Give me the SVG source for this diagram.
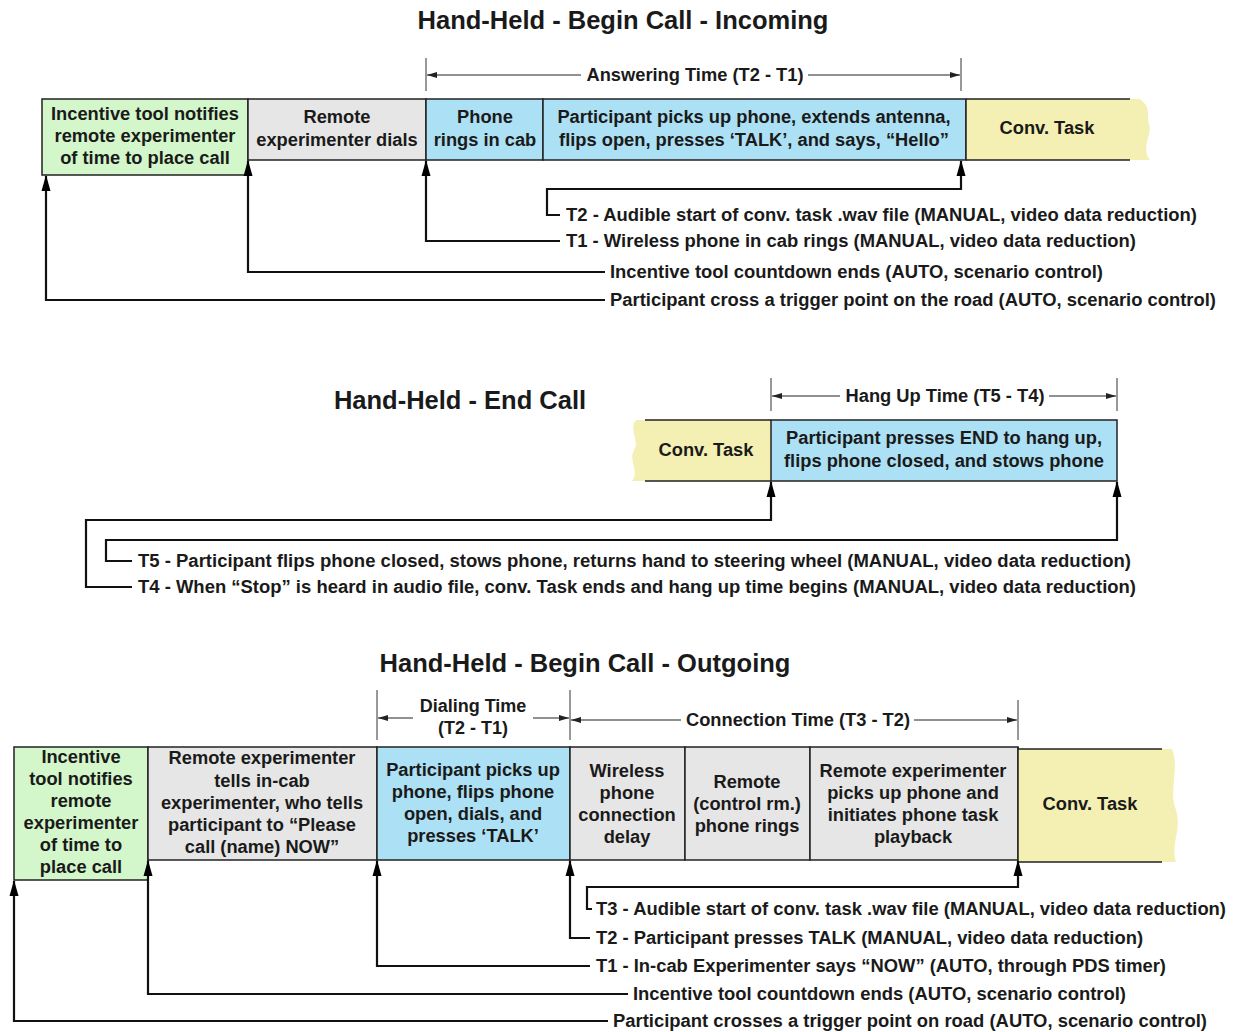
<svg xmlns="http://www.w3.org/2000/svg" width="1238" height="1032" viewBox="0 0 1238 1032">
<style>
text{font-family:"Liberation Sans",Arial,sans-serif;font-weight:bold;fill:#1a1a1a}
.title{font-size:25.5px;text-anchor:middle}
.box{font-size:18.3px;text-anchor:middle}
.lbl{font-size:17.5px}
.dim{font-size:18px;text-anchor:middle}
.green{fill:#d3f6cb;stroke:#222;stroke-width:1.5}
.gray{fill:#e6e6e6;stroke:#222;stroke-width:1.5}
.blue{fill:#ace0f4;stroke:#222;stroke-width:1.5}
.yel{fill:#f4efb2;stroke:none}
.edge{stroke:#222;stroke-width:1.5;fill:none}
.conn{stroke:#111;stroke-width:2.2;fill:none;marker-end:url(#ah)}
.tick{stroke:#333;stroke-width:1}
.dline{stroke:#222;stroke-width:1;fill:none;marker-end:url(#da)}
</style>
<defs>
<marker id="ah" markerUnits="userSpaceOnUse" markerWidth="16" markerHeight="10" viewBox="0 0 16 10" refX="15" refY="5" orient="auto">
<path d="M0,0.5 L16,5 L0,9.5 z" fill="#000"/>
</marker>
<marker id="da" markerUnits="userSpaceOnUse" markerWidth="10" markerHeight="6" viewBox="0 0 10 6" refX="10" refY="3" orient="auto">
<path d="M0,0 L10,3 L0,6 z" fill="#222"/>
</marker>
</defs>

<!-- ===== Section 1 ===== -->
<text class="title" x="623" y="29">Hand-Held - Begin Call - Incoming</text>
<g id="dim-answer">
<line class="tick" x1="426" y1="58" x2="426" y2="91"/>
<line class="tick" x1="961" y1="58" x2="961" y2="91"/>
<path class="dline" d="M581,75 H427"/>
<path class="dline" d="M808,75 H960"/>
<text class="dim" x="695" y="81" textLength="217" lengthAdjust="spacingAndGlyphs">Answering Time (T2 - T1)</text>
</g>
<g id="n1-notify"><rect class="green" x="42" y="99" width="206" height="76"/>
<text class="box" x="145" y="120">Incentive tool notifies</text><text class="box" x="145" y="142">remote experimenter</text><text class="box" x="145" y="164">of time to place call</text></g>
<g id="n1-dials"><rect class="gray" x="248" y="99" width="178" height="61"/>
<text class="box" x="337" y="123">Remote</text><text class="box" x="337" y="146">experimenter dials</text></g>
<g id="n1-rings"><rect class="blue" x="426" y="99" width="117" height="61"/>
<text class="box" x="485" y="123">Phone</text><text class="box" x="485" y="146">rings in cab</text></g>
<g id="n1-pickup"><rect class="blue" x="543" y="99" width="423" height="61"/>
<text class="box" x="754" y="123">Participant picks up phone, extends antenna,</text><text class="box" x="754" y="146">flips open, presses ‘TALK’, and says, “Hello”</text></g>
<g id="n1-conv"><path class="yel" d="M966,99 H1140 C1152,108 1146,116 1149,124 C1153,134 1140,148 1150,160 H966 Z"/>
<path class="edge" d="M966,99 H1130 M966,160 H1130 M966,99 V160"/>
<text class="box" x="1047" y="134">Conv. Task</text></g>
<g id="conn1">
<path class="conn" d="M560,215 H547 V189 H961 V161"/>
<path class="conn" d="M560,241 H426 V161"/>
<path class="conn" d="M605,272 H248 V161"/>
<path class="conn" d="M605,300 H46 V176"/>
</g>
<text class="lbl" x="566" y="221" textLength="631" lengthAdjust="spacingAndGlyphs">T2 - Audible start of conv. task .wav file (MANUAL, video data reduction)</text>
<text class="lbl" x="566" y="247" textLength="570" lengthAdjust="spacingAndGlyphs">T1 - Wireless phone in cab rings (MANUAL, video data reduction)</text>
<text class="lbl" x="610" y="278" textLength="493" lengthAdjust="spacingAndGlyphs">Incentive tool countdown ends (AUTO, scenario control)</text>
<text class="lbl" x="610" y="306" textLength="606" lengthAdjust="spacingAndGlyphs">Participant cross a trigger point on the road (AUTO, scenario control)</text>

<!-- ===== Section 2 ===== -->
<text class="title" x="460" y="409">Hand-Held - End Call</text>
<g id="dim-hang">
<line class="tick" x1="771" y1="378" x2="771" y2="411"/>
<line class="tick" x1="1117" y1="378" x2="1117" y2="411"/>
<path class="dline" d="M840,396 H772"/>
<path class="dline" d="M1049,396 H1116"/>
<text class="dim" x="945" y="402" textLength="199" lengthAdjust="spacingAndGlyphs">Hang Up Time (T5 - T4)</text>
</g>
<g id="n2-conv"><path class="yel" d="M771,420 H636 C628,430 640,440 634,450 C628,462 640,470 632,481 H771 Z"/>
<path class="edge" d="M645,420 H771 M645,481 H771"/>
<text class="box" x="706" y="456">Conv. Task</text></g>
<g id="n2-end"><rect class="blue" x="771" y="420" width="346" height="61"/>
<text class="box" x="944" y="444">Participant presses END to hang up,</text><text class="box" x="944" y="467">flips phone closed, and stows phone</text></g>
<g id="conn2">
<path class="conn" d="M132,587 H86 V520 H771 V482"/>
<path class="conn" d="M132,561 H106 V540 H1117 V482"/>
</g>
<text class="lbl" x="138" y="567" textLength="993" lengthAdjust="spacingAndGlyphs">T5 - Participant  flips phone closed, stows phone, returns hand to steering wheel (MANUAL, video data reduction)</text>
<text class="lbl" x="138" y="593" textLength="998" lengthAdjust="spacingAndGlyphs">T4 - When “Stop” is heard in audio file, conv. Task ends and hang up time begins (MANUAL, video data reduction)</text>

<!-- ===== Section 3 ===== -->
<text class="title" x="585" y="672">Hand-Held - Begin Call - Outgoing</text>
<g id="dim-dial">
<line class="tick" x1="377" y1="690" x2="377" y2="740"/>
<line class="tick" x1="570" y1="690" x2="570" y2="740"/>
<path class="dline" d="M413,718 H378"/>
<path class="dline" d="M533,718 H569"/>
<text class="dim" x="473" y="712">Dialing Time</text>
<text class="dim" x="473" y="734">(T2 - T1)</text>
</g>
<g id="dim-conn">
<line class="tick" x1="1018" y1="700" x2="1018" y2="740"/>
<path class="dline" d="M681,720 H571"/>
<path class="dline" d="M914,720 H1017"/>
<text class="dim" x="798" y="726" textLength="224" lengthAdjust="spacingAndGlyphs">Connection Time (T3 - T2)</text>
</g>
<g id="n3-notify"><rect class="green" x="14" y="747" width="134" height="133"/>
<text class="box" x="81" y="763">Incentive</text><text class="box" x="81" y="785">tool notifies</text><text class="box" x="81" y="807">remote</text><text class="box" x="81" y="829">experimenter</text><text class="box" x="81" y="851">of time to</text><text class="box" x="81" y="873">place call</text></g>
<g id="n3-tells"><rect class="gray" x="148" y="747" width="229" height="113"/>
<text class="box" x="262" y="764">Remote experimenter</text><text class="box" x="262" y="787">tells in-cab</text><text class="box" x="262" y="809">experimenter, who tells</text><text class="box" x="262" y="831">participant to “Please</text><text class="box" x="262" y="853">call (name) NOW”</text></g>
<g id="n3-dial"><rect class="blue" x="377" y="747" width="193" height="113"/>
<text class="box" x="473" y="776">Participant picks up</text><text class="box" x="473" y="798">phone, flips phone</text><text class="box" x="473" y="820">open, dials, and</text><text class="box" x="473" y="842">presses ‘TALK’</text></g>
<g id="n3-delay"><rect class="gray" x="570" y="747" width="115" height="113"/>
<text class="box" x="627" y="777">Wireless</text><text class="box" x="627" y="799">phone</text><text class="box" x="627" y="821">connection</text><text class="box" x="627" y="843">delay</text></g>
<g id="n3-rings"><rect class="gray" x="685" y="747" width="125" height="113"/>
<text class="box" x="747" y="788">Remote</text><text class="box" x="747" y="810">(control rm.)</text><text class="box" x="747" y="832">phone rings</text></g>
<g id="n3-pickup"><rect class="gray" x="810" y="747" width="208" height="113"/>
<text class="box" x="913" y="777">Remote experimenter</text><text class="box" x="913" y="799">picks up phone and</text><text class="box" x="913" y="821">initiates phone task</text><text class="box" x="913" y="843">playback</text></g>
<g id="n3-conv"><path class="yel" d="M1018,749 H1172 C1180,770 1168,790 1176,810 C1182,830 1170,845 1176,862 H1018 Z"/>
<path class="edge" d="M1018,749 H1162 M1018,862 H1162 M1018,747 V862"/>
<text class="box" x="1090" y="810">Conv. Task</text></g>
<g id="conn3">
<path class="conn" d="M592,909 H587 V887 H1018 V861"/>
<path class="conn" d="M590,938 H570 V861"/>
<path class="conn" d="M590,966 H377 V861"/>
<path class="conn" d="M628,994 H148 V861"/>
<path class="conn" d="M608,1021 H14 V881"/>
</g>
<text class="lbl" x="596" y="915" textLength="630" lengthAdjust="spacingAndGlyphs">T3 - Audible start of conv. task .wav file (MANUAL, video data reduction)</text>
<text class="lbl" x="596" y="944" textLength="547" lengthAdjust="spacingAndGlyphs">T2 - Participant presses TALK (MANUAL, video data reduction)</text>
<text class="lbl" x="596" y="972" textLength="570" lengthAdjust="spacingAndGlyphs">T1 - In-cab Experimenter says “NOW” (AUTO, through PDS timer)</text>
<text class="lbl" x="633" y="1000" textLength="493" lengthAdjust="spacingAndGlyphs">Incentive tool countdown ends (AUTO, scenario control)</text>
<text class="lbl" x="613" y="1027" textLength="594" lengthAdjust="spacingAndGlyphs">Participant crosses a trigger point on road (AUTO, scenario control)</text>
</svg>
